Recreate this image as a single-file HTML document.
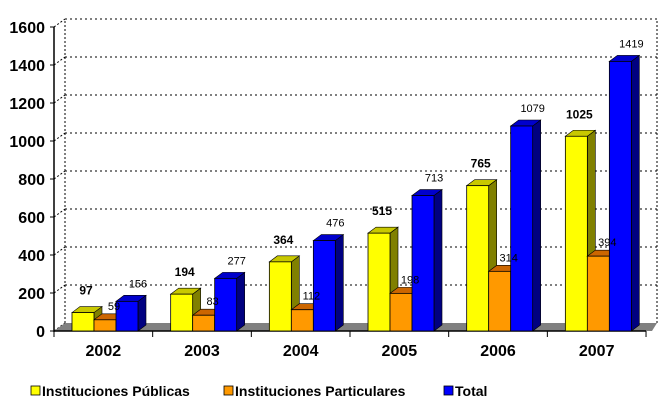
<!DOCTYPE html>
<html><head><meta charset="utf-8"><style>
body{margin:0;background:#fff;width:671px;height:409px;overflow:hidden;font-family:"Liberation Sans",Arial,sans-serif}
svg text{font-family:"Liberation Sans",Arial,sans-serif}
</style></head><body>
<svg id="chart" width="671" height="409" viewBox="0 0 671 409" xmlns="http://www.w3.org/2000/svg"></svg>
<script>
const categories=["2002","2003","2004","2005","2006","2007"];
const publicas=[97,194,364,515,765,1025];
const particulares=[59,83,112,198,314,394];
const total=[156,277,476,713,1079,1419];
const yTicks=[0,200,400,600,800,1000,1200,1400,1600];
const legendLabels=["Instituciones Públicas","Instituciones Particulares","Total"];

const NS="http://www.w3.org/2000/svg";
const svg=document.getElementById('chart');
const X0=54,Y0=331,YMAX=1600,PH=304,CW=98.67,DX=11,DY=8,BW=22,BDX=8,BDY=6;
const y=v=>Y0-v/YMAX*PH;
const cx=i=>X0+i*CW;
function el(t,a,p){const e=document.createElementNS(NS,t);for(const k in a)e.setAttribute(k,a[k]);(p||svg).appendChild(e);return e;}

const grid=el('g',{});


yTicks.forEach(v=>{
  if(v>0){el('line',{x1:X0+DX,y1:y(v)-DY,x2:657,y2:y(v)-DY,stroke:'#000','stroke-width':1,'stroke-dasharray':'2,3'},grid);}
  el('line',{x1:X0,y1:y(v),x2:X0+DX,y2:y(v)-DY,stroke:'#000','stroke-width':1,'stroke-dasharray':'2,2'},grid);
});
el('line',{x1:X0+DX,y1:y(0)-DY,x2:X0+DX,y2:y(YMAX)-DY,stroke:'#000','stroke-dasharray':'2,2'},grid);
el('line',{x1:657,y1:y(0)-DY,x2:657,y2:y(YMAX)-DY,stroke:'#000','stroke-dasharray':'2,2'},grid);

const floor=el('polygon',{points:`${X0},${Y0} ${X0+DX},${Y0-DY} 657,${Y0-DY} ${657-DX+6},${Y0} `,fill:'#808080'});



const ya=el('line',{x1:X0,y1:y(YMAX),x2:X0,y2:Y0+1,stroke:'#000','stroke-width':1.5});


const xa=el('line',{x1:X0,y1:Y0,x2:cx(6),y2:Y0,stroke:'#000','stroke-width':1.5});


yTicks.forEach(v=>{
  el('line',{x1:X0-4,y1:y(v),x2:X0,y2:y(v),stroke:'#000'});
  const t=el('text',{x:X0-9,y:y(v)+6,'text-anchor':'end','font-size':16,'font-weight':'bold'});
  t.textContent=v;
  
  
});
for(let i=0;i<=6;i++)el('line',{x1:cx(i),y1:Y0,x2:cx(i),y2:Y0+6,stroke:'#000'});
categories.forEach((c,i)=>{
  const t=el('text',{x:cx(i)+CW/2,y:Y0+25,'text-anchor':'middle','font-size':16,'font-weight':'bold'});
  t.textContent=c;
  
  
});

const series=[
 {data:publicas,front:'#ffff00',top:'#c8c800',side:'#808000',name:'publicas'},
 {data:particulares,front:'#ff9900',top:'#cc6600',side:'#b35900',name:'particulares'},
 {data:total,front:'#0000ff',top:'#0000cc',side:'#000080',name:'total'}
];
function bar(x,v,s,i){
  const g=el('g',{});
  
  
  const t=y(v);
  el('polygon',{points:`${x+BW},${Y0} ${x+BW+BDX},${Y0-BDY} ${x+BW+BDX},${t-BDY} ${x+BW},${t}`,fill:s.side,stroke:'#000','stroke-width':0.6},g);
  el('polygon',{points:`${x},${t} ${x+BDX},${t-BDY} ${x+BW+BDX},${t-BDY} ${x+BW},${t}`,fill:s.top,stroke:'#000','stroke-width':0.6},g);
  el('rect',{x:x,y:t,width:BW,height:Y0-t,fill:s.front,stroke:'#000','stroke-width':0.8},g);
}
categories.forEach((c,i)=>{
  const base=cx(i)+18;
  series.forEach((s,k)=>bar(base+k*BW,s.data[i],s,i));
  series.forEach((s,k)=>{
    const v=s.data[i];const bx=base+k*BW;
    let t;
    if(k===0){t=el('text',{x:bx+BW/2+3,y:y(v)-18,'text-anchor':'middle','font-size':12,'font-weight':'bold'});}
    else if(k===1){t=el('text',{x:bx+BW/2+9,y:y(v)-10,'text-anchor':'middle','font-size':11});}
    else{t=el('text',{x:bx+BW/2+11,y:y(v)-14,'text-anchor':'middle','font-size':11});}
    t.textContent=v;
    
    
  });
});

const lx=[37,230,450],lc=['#ffff00','#ff9900','#0000ff'];
legendLabels.forEach((n,i)=>{
  const g=el('g',{});
  
  
  el('rect',{x:lx[i]-6,y:386,width:9,height:9,fill:lc[i],stroke:'#000','stroke-width':0.8},g);
  const t=el('text',{x:lx[i]+5,y:396,'font-size':14,'font-weight':'bold'},g);
  t.textContent=n;
});
</script>
</body></html>
